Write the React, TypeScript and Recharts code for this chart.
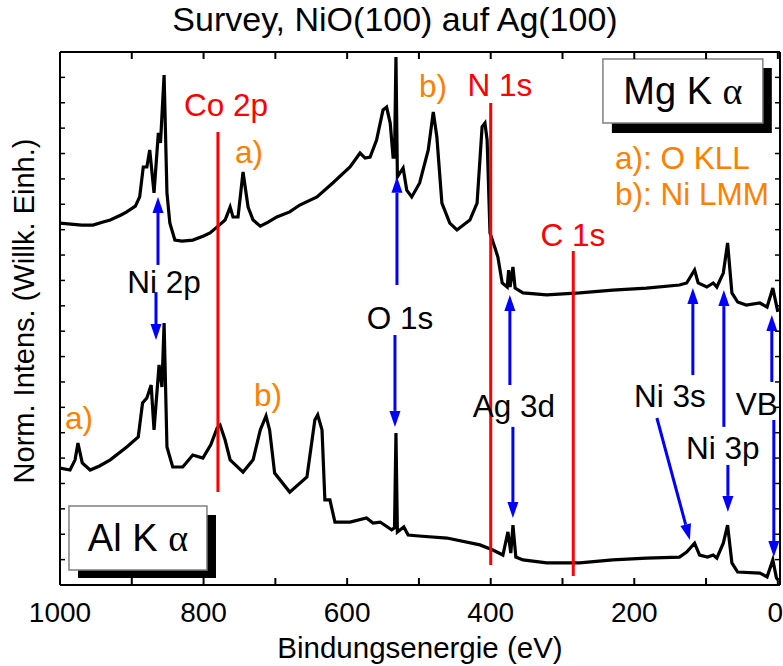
import { ComposedChart, Line, XAxis, YAxis, ReferenceLine, ReferenceDot, ReferenceArea, Label } from 'recharts';

const FONT = '"Liberation Sans", Arial, sans-serif';
const GREEK = '"Liberation Serif", "DejaVu Serif", serif';

// Mg K alpha spectrum (upper curve), binding energy in eV
const mgEnergy = [1000, 985, 970, 954, 940, 930, 915, 907, 895, 889, 884, 879, 875, 869, 863, 860, 855, 851, 847, 840, 830, 815, 800, 791, 781, 770, 763, 759, 752, 745, 738, 731, 721, 710, 698, 680, 666, 642, 620, 596, 582, 575, 568, 559, 550, 545, 540, 536, 534, 532, 530, 522, 517, 510, 499, 487, 480, 475, 468, 457, 447, 429, 419, 412, 408, 405, 401, 394, 390, 384, 377, 375, 373, 369, 366, 355, 322, 276, 230, 183, 137, 127, 116, 111, 99, 90, 85, 76, 70, 64, 56, 44, 25, 15, 7, 2, 0];
const mgIntensity = [14.26, 14.22, 14.18, 14.18, 14.3, 14.38, 14.58, 14.7, 14.93, 15.29, 16.47, 16.47, 17.14, 15.45, 17.81, 17.42, 20.09, 15.45, 14.26, 13.59, 13.55, 13.59, 13.75, 13.87, 14.11, 14.38, 14.89, 14.5, 14.5, 16.27, 14.89, 14.38, 14.14, 14.3, 14.5, 14.7, 14.97, 15.29, 15.84, 16.47, 17.02, 16.82, 16.86, 17.53, 18.72, 18.83, 18.2, 16.86, 16.86, 20.8, 16.08, 16.43, 15.56, 15.29, 15.84, 17.14, 18.64, 17.65, 15.05, 14.26, 13.99, 14.38, 15.05, 18.05, 18.2, 17.53, 13.87, 13.28, 12.92, 11.9, 11.74, 12.41, 11.74, 12.53, 11.7, 11.51, 11.43, 11.51, 11.62, 11.7, 11.82, 11.9, 12.41, 11.9, 11.74, 11.9, 11.74, 12.29, 13.48, 11.51, 11.15, 11.03, 11.11, 10.95, 11.7, 11.03, 10.76];

// Al K alpha spectrum (lower curve)
const alEnergy = [1000, 986, 979, 975, 969, 958, 945, 930, 907, 891, 885, 879, 873, 869, 862, 858, 855, 851, 843, 829, 815, 801, 790, 781, 777, 770, 763, 745, 731, 721, 713, 708, 701, 680, 656, 645, 641, 635, 631, 624, 617, 596, 573, 564, 554, 538, 534, 532, 530, 521, 515, 500, 461, 415, 397, 383, 376, 372, 369, 365, 355, 322, 276, 230, 183, 137, 127, 116, 109, 98, 90, 85, 76, 70, 64, 56, 25, 15, 7, 2, 0];
const alIntensity = [4.61, 4.53, 4.93, 5.59, 4.81, 4.53, 4.69, 4.93, 5.44, 5.83, 7.17, 7.37, 7.88, 6.11, 8.67, 7.8, 10.32, 5.44, 4.65, 4.65, 5.12, 5.0, 5.52, 6.19, 6.3, 5.71, 4.93, 4.45, 4.93, 6.11, 6.66, 6.11, 4.41, 3.66, 4.26, 6.5, 6.7, 6.11, 3.35, 3.35, 2.48, 2.48, 2.64, 2.44, 2.48, 2.17, 2.25, 5.99, 2.09, 2.29, 1.97, 1.93, 1.85, 1.58, 1.38, 1.18, 2.09, 1.26, 2.36, 1.1, 0.99, 0.87, 0.87, 0.99, 1.06, 1.1, 1.3, 1.65, 1.18, 1.1, 1.18, 1.06, 1.65, 2.36, 0.87, 0.51, 0.47, 0.32, 0.99, 0.28, 0.2];

const xTicks = [0, 100, 200, 300, 400, 500, 600, 700, 800, 900, 1000];
const xTickLabels = [0, 200, 400, 600, 800, 1000];
const yTicks = [1, 2, 3, 4, 5, 6, 7, 8, 9, 10, 11, 12, 13, 14, 15, 16, 17, 18, 19, 20];

// red reference lines: energy, lower and upper end
const refLines = [
  { e: 780, from: 3.66, to: 17.85 },
  { e: 400, from: 0.79, to: 18.99 },
  { e: 285, from: 0.35, to: 13.16 },
];

// blue arrows: tail (e1, v1) -> tip (e2, v2)
const arrows = [
  { e1: 863.5, v1: 12.61, e2: 863.5, v2: 15.29 },
  { e1: 866.3, v1: 11.54, e2: 866.3, v2: 9.65 },
  { e1: 530.6, v1: 11.82, e2: 530.6, v2: 16.08 },
  { e1: 533.4, v1: 9.85, e2: 533.4, v2: 6.23 },
  { e1: 373.3, v1: 7.88, e2: 373.3, v2: 11.43 },
  { e1: 369.1, v1: 6.23, e2: 369.1, v2: 2.64 },
  { e1: 118.4, v1: 8.27, e2: 118.4, v2: 11.7 },
  { e1: 168.5, v1: 6.58, e2: 122.6, v2: 1.77 },
  { e1: 75.2, v1: 6.23, e2: 75.2, v2: 11.62 },
  { e1: 69.6, v1: 4.73, e2: 69.6, v2: 2.88 },
  { e1: 8.4, v1: 8.0, e2: 8.4, v2: 10.64 },
  { e1: 5.6, v1: 6.5, e2: 5.6, v2: 1.1 },
];

const blackLabels = [
  { text: 'Ni 2p', e: 855.2, v: 11.94 },
  { text: 'O 1s', e: 526.5, v: 10.52 },
  { text: 'Ag 3d', e: 367.7, v: 7.05 },
  { text: 'Ni 3s', e: 150.4, v: 7.45 },
  { text: 'Ni 3p', e: 76.6, v: 5.4 },
  { text: 'VB', e: 29.2, v: 7.13 },
];

const redLabels = [
  { text: 'Co 2p', e: 768.8, v: 18.91 },
  { text: 'N 1s', e: 387.2, v: 19.7 },
  { text: 'C 1s', e: 285.5, v: 13.79 },
];

const orangeLabels = [
  { text: 'a)', e: 736.8, v: 17.06 },
  { text: 'b)', e: 480.5, v: 19.66 },
  { text: 'a)', e: 973.5, v: 6.58 },
  { text: 'b)', e: 710.3, v: 7.49 },
];

const legendNotes = [
  { text: 'a): O KLL', e: 227.0, v: 16.82 },
  { text: 'b): Ni LMM', e: 227.0, v: 15.41 },
];

// source boxes: box corners and shadow corners
const sourceBoxes = [
  { name: 'Mg K', e: 132.3, v: 19.46, box: [243.7, 20.9, 20.72, 18.2], shadow: [231.2, 8.4, 20.37, 17.81] },
  { name: 'Al K', e: 891.4, v: 1.85, box: [987.5, 795.3, 3.11, 0.59], shadow: [974.9, 782.7, 2.76, 0.28] },
];

const mgData = mgEnergy.map((e, i) => ({ e, y: mgIntensity[i] }));
const alData = alEnergy.map((e, i) => ({ e, y: alIntensity[i] }));

const Arrow = (p: any) => {
  const { x1, y1, x2, y2 } = p;
  const dx = x2 - x1, dy = y2 - y1;
  const len = Math.sqrt(dx * dx + dy * dy) || 1;
  const ux = dx / len, uy = dy / len;
  const hl = 16, hw = 5.5;
  const bx = x2 - ux * hl, by = y2 - uy * hl;
  return (
    <g>
      <line x1={x1} y1={y1} x2={bx} y2={by} stroke="#0000ff" strokeWidth={3} />
      <polygon points={`${x2},${y2} ${bx - uy * hw},${by + ux * hw} ${bx + uy * hw},${by - ux * hw}`} fill="#0000ff" />
    </g>
  );
};

const textShape = (text: string, color: string, size: number, anchor = 'middle') => (p: any) => (
  <text x={p.cx} y={p.cy} fill={color} fontSize={size} fontFamily={FONT} textAnchor={anchor} dominantBaseline="central">{text}</text>
);

const BottomTick = (p: any) => {
  const { x, y, payload } = p;
  const last = payload.value === 0;
  return (
    <g>
      <line x1={x} y1={y} x2={x} y2={y - 7} stroke="#000" strokeWidth={2} />
      {xTickLabels.includes(payload.value) && (
        <text x={last ? 783 : x} y={y + 37} textAnchor={last ? 'end' : 'middle'} fontSize={28} fontFamily={FONT} fill="#000">{payload.value}</text>
      )}
    </g>
  );
};
const TopTick = (p: any) => <line x1={p.x} y1={p.y} x2={p.x} y2={p.y + 7} stroke="#000" strokeWidth={2} />;
const LeftTick = (p: any) => <line x1={p.x} y1={p.y} x2={p.x + 5} y2={p.y} stroke="#000" strokeWidth={1.5} />;
const RightTick = (p: any) => <line x1={p.x} y1={p.y} x2={p.x - 5} y2={p.y} stroke="#000" strokeWidth={1.5} />;

export default function App() {
  return (
    <div style={{ position: 'absolute', left: 0, top: 0, width: 783, height: 666, background: '#fff' }}>
      <div style={{ position: 'absolute', left: 0, top: 0, width: 790, textAlign: 'center', fontFamily: FONT, fontSize: 34, color: '#000', whiteSpace: 'nowrap' }}>
        Survey, NiO(100) auf Ag(100)
      </div>
      <ComposedChart width={783} height={666} margin={{ top: 0, right: 0, bottom: 0, left: 0 }}>
        <XAxis dataKey="e" type="number" domain={[-3, 1000]} reversed allowDataOverflow ticks={xTicks} interval={0}
          height={81} tickSize={0} tickMargin={0} tickLine={false} tick={BottomTick} axisLine={{ stroke: '#000', strokeWidth: 2 }}>
          <Label content={() => <text x={420} y={658} textAnchor="middle" fontSize={29.5} fontFamily={FONT} fill="#000">Bindungsenergie (eV)</text>} />
        </XAxis>
        <XAxis xAxisId="top" orientation="top" dataKey="e" type="number" domain={[-3, 1000]} reversed allowDataOverflow ticks={xTicks} interval={0}
          height={52} tickSize={0} tickMargin={0} tickLine={false} tick={TopTick} axisLine={{ stroke: '#000', strokeWidth: 2 }} />
        <YAxis type="number" domain={[0, 21]} allowDataOverflow ticks={yTicks} interval={0} width={60}
          tickSize={0} tickMargin={0} tickLine={false} tick={LeftTick} axisLine={{ stroke: '#000', strokeWidth: 2 }}>
          <Label content={() => <text x={34} y={311} transform="rotate(-90 34 311)" textAnchor="middle" fontSize={29} fontFamily={FONT} fill="#000">Norm. Intens. (Willk. Einh.)</text>} />
        </YAxis>
        <YAxis yAxisId="right" orientation="right" type="number" domain={[0, 21]} allowDataOverflow ticks={yTicks} interval={0} width={3}
          tickSize={0} tickMargin={0} tickLine={false} tick={RightTick} axisLine={{ stroke: '#000', strokeWidth: 2 }} />

        <Line data={mgData} dataKey="y" type="linear" stroke="#000" strokeWidth={3.2} dot={false} isAnimationActive={false} />
        <Line data={alData} dataKey="y" type="linear" stroke="#000" strokeWidth={3.2} dot={false} isAnimationActive={false} />

        {refLines.map((r, i) => (
          <ReferenceLine key={`r${i}`} segment={[{ x: r.e, y: r.from }, { x: r.e, y: r.to }]} stroke="#ff0000" strokeWidth={3} />
        ))}
        {arrows.map((a, i) => (
          <ReferenceLine key={`a${i}`} segment={[{ x: a.e1, y: a.v1 }, { x: a.e2, y: a.v2 }]} shape={Arrow} />
        ))}
        {sourceBoxes.map((b, i) => (
          <ReferenceArea key={`s${i}`} x1={b.shadow[0]} x2={b.shadow[1]} y1={b.shadow[2]} y2={b.shadow[3]} fill="#000" fillOpacity={1} stroke="none" />
        ))}
        {sourceBoxes.map((b, i) => (
          <ReferenceArea key={`b${i}`} x1={b.box[0]} x2={b.box[1]} y1={b.box[2]} y2={b.box[3]} fill="#fff" fillOpacity={1} stroke="#808080" strokeWidth={1.5} />
        ))}
        {sourceBoxes.map((b, i) => (
          <ReferenceDot key={`t${i}`} x={b.e} y={b.v} r={0} shape={(p: any) => (
            <text x={p.cx} y={p.cy} fontSize={38} fontFamily={FONT} textAnchor="middle" dominantBaseline="central" fill="#000">
              {b.name} <tspan fontFamily={GREEK}>α</tspan>
            </text>
          )} />
        ))}
        {blackLabels.map((l, i) => (
          <ReferenceDot key={`k${i}`} x={l.e} y={l.v} r={0} shape={textShape(l.text, '#000', 31.5)} />
        ))}
        {redLabels.map((l, i) => (
          <ReferenceDot key={`d${i}`} x={l.e} y={l.v} r={0} shape={textShape(l.text, '#ff0000', 31.5)} />
        ))}
        {orangeLabels.map((l, i) => (
          <ReferenceDot key={`o${i}`} x={l.e} y={l.v} r={0} shape={textShape(l.text, '#ff8000', 31.5)} />
        ))}
        {legendNotes.map((l, i) => (
          <ReferenceDot key={`n${i}`} x={l.e} y={l.v} r={0} shape={textShape(l.text, '#ff8000', 31.5, 'start')} />
        ))}
      </ComposedChart>
    </div>
  );
}
